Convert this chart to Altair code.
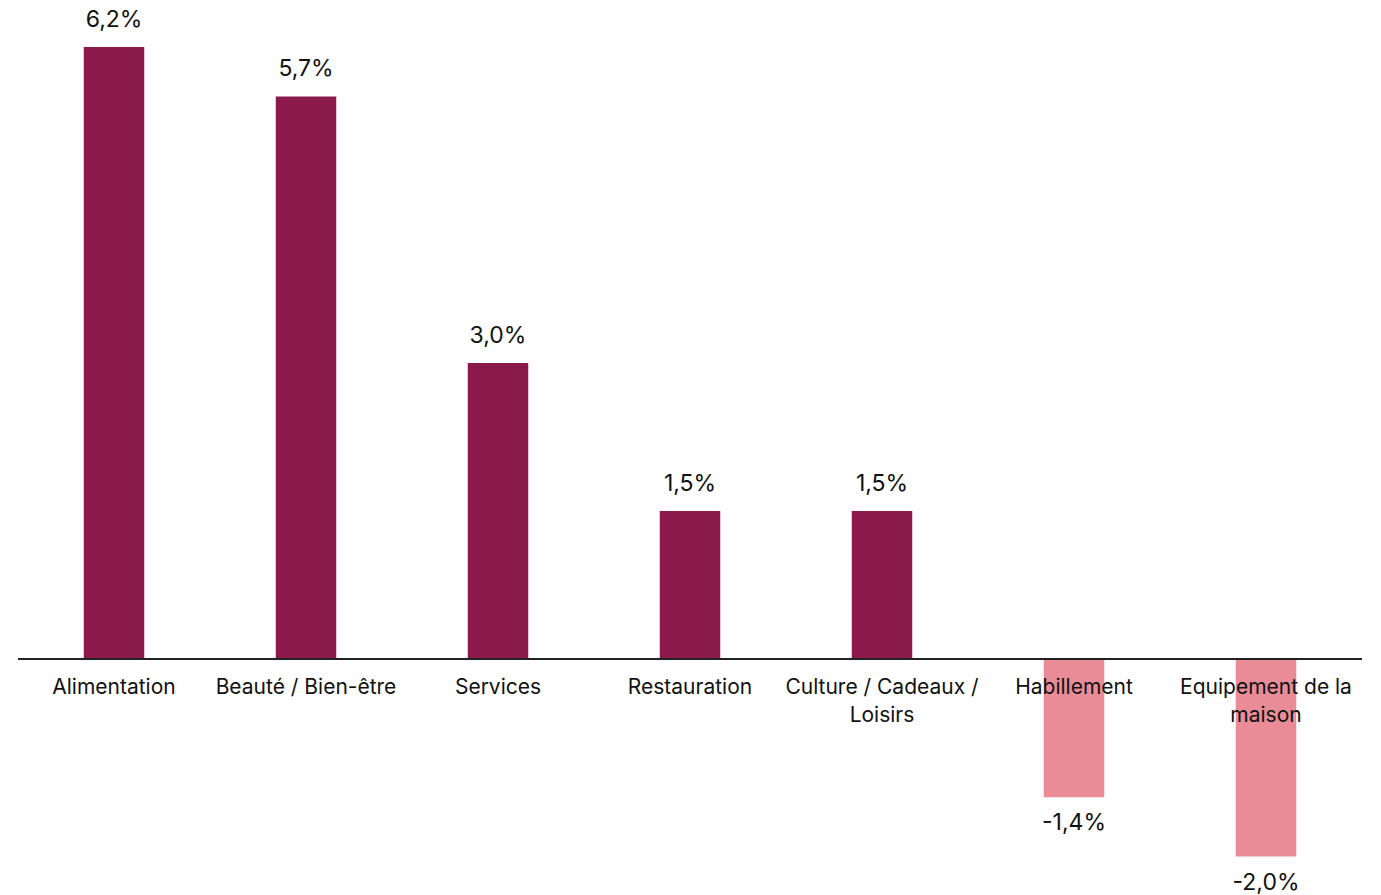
import altair as alt
import pandas as pd

categories = ["Alimentation", "Beauté / Bien-être", "Services", "Restauration",
              "Culture / Cadeaux /\nLoisirs", "Habillement", "Equipement de la\nmaison"]
values = [6.2, 5.7, 3.0, 1.5, 1.5, -1.4, -2.0]

df = pd.DataFrame({
    "cat": categories,
    "value": values,
    "zero": [0.0] * len(values),
    "label": [f"{v:.1f}".replace(".", ",") + "%" for v in values],
    "sign": ["pos" if v >= 0 else "neg" for v in values],
})

FONT = "Inter"
x = alt.X("cat:N", sort=categories, axis=None,
          scale=alt.Scale(paddingInner=0.685, paddingOuter=0.3425))
yscale = alt.Scale(domain=[-2.39, 6.555], nice=False, zero=False)
y = alt.Y("value:Q", axis=None, scale=yscale)

base = alt.Chart(df).encode(x=x)

bars = base.mark_bar().encode(
    y=y, y2="zero:Q",
    color=alt.Color("sign:N", scale=alt.Scale(domain=["pos", "neg"], range=["#8A1A4C", "#E98C98"]), legend=None),
)

pos_labels = base.transform_filter("datum.value >= 0").mark_text(
    baseline="bottom", dy=-15, fontSize=23, font=FONT, color="#111"
).encode(y=y, text="label:N")

neg_labels = base.transform_filter("datum.value < 0").mark_text(
    baseline="top", dy=15, fontSize=23, font=FONT, color="#111"
).encode(y=y, text="label:N")

cat_labels = base.mark_text(
    baseline="top", dy=18, fontSize=21, font=FONT, color="#111", lineBreak="\n", lineHeight=28
).encode(y=alt.Y("zero:Q", axis=None, scale=yscale), text="cat:N")

zero_rule = alt.Chart(df).mark_rule(color="#222", strokeWidth=2).encode(
    y=alt.Y("zero:Q", axis=None, scale=yscale))

chart = alt.layer(bars, zero_rule, pos_labels, neg_labels, cat_labels).properties(
    width=1344, height=883,
    autosize=alt.AutoSizeParams(type="none"),
    padding={"left": 10, "top": 4, "right": 0, "bottom": 0},
).configure_view(stroke=None)

chart.save("out.html", embed_options={"renderer": "svg", "actions": False})
